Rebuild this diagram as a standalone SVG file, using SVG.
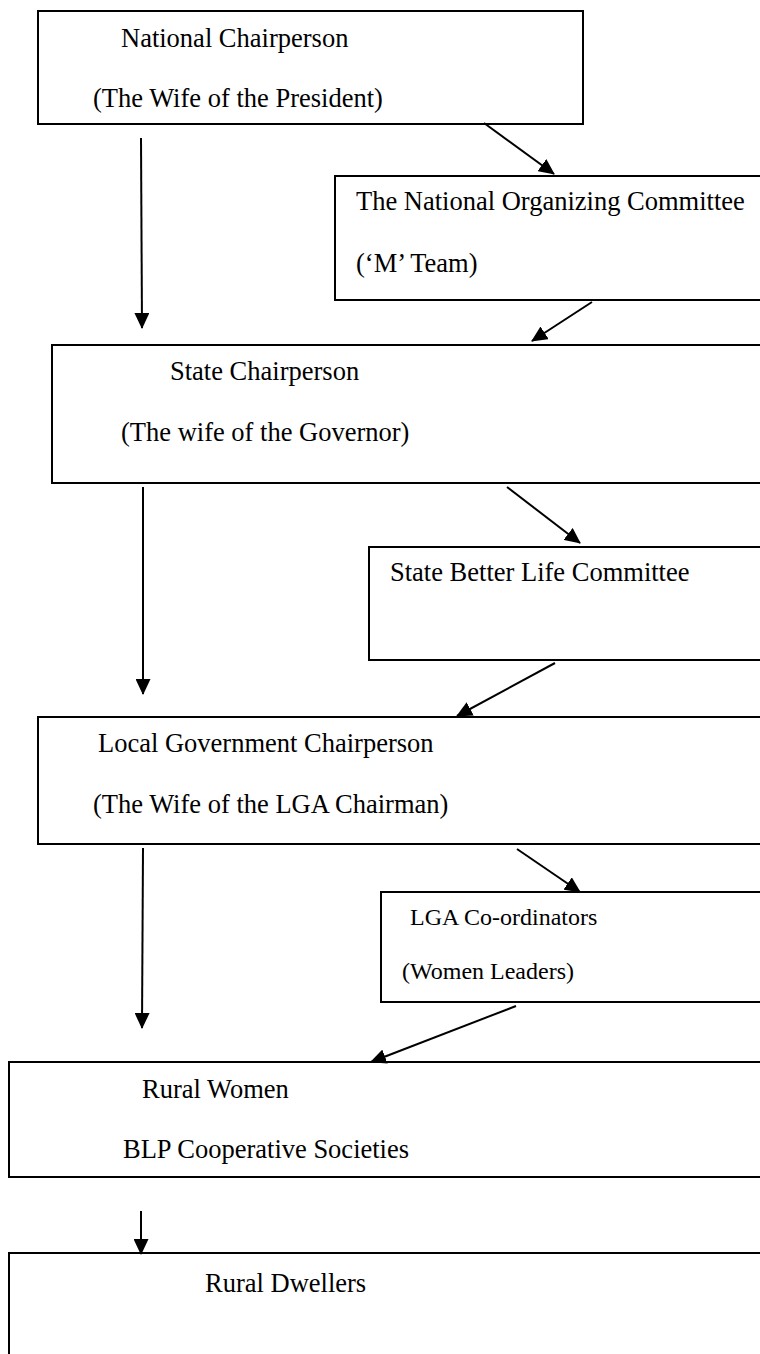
<svg xmlns="http://www.w3.org/2000/svg" width="760" height="1354" viewBox="0 0 760 1354">
<style>
  .box { fill: #ffffff; stroke: #000000; stroke-width: 2; }
  .t { font-family: "Liberation Serif", "Times New Roman", serif; font-size: 26.5px; fill: #000000; }
  .ts { font-family: "Liberation Serif", "Times New Roman", serif; font-size: 24px; fill: #000000; }
  .c { stroke: #000000; stroke-width: 2; fill: none; marker-end: url(#ah); }
</style>
<defs>
  <marker id="ah" markerUnits="userSpaceOnUse" viewBox="0 0 16 15" markerWidth="16" markerHeight="15" refX="15" refY="7.5" orient="auto">
    <path d="M0,0 L16,7.5 L0,15 z" fill="#000000"/>
  </marker>
</defs>
<rect width="760" height="1354" fill="#ffffff"/>

<g id="national-chairperson">
  <rect class="box" x="38" y="11" width="545" height="113"/>
  <text class="t" x="121" y="47">National Chairperson</text>
  <text class="t" x="93" y="107">(The Wife of the President)</text>
</g>
<g id="national-organizing-committee">
  <rect class="box" x="335" y="176" width="460" height="124"/>
  <text class="t" x="356" y="210">The National Organizing Committee</text>
  <text class="t" x="356" y="272">(‘M’ Team)</text>
</g>
<g id="state-chairperson">
  <rect class="box" x="52" y="345" width="743" height="138"/>
  <text class="t" x="170" y="380">State Chairperson</text>
  <text class="t" x="121" y="441">(The wife of the Governor)</text>
</g>
<g id="state-better-life-committee">
  <rect class="box" x="369" y="547" width="426" height="113"/>
  <text class="t" x="390" y="581">State Better Life Committee</text>
</g>
<g id="local-government-chairperson">
  <rect class="box" x="38" y="717" width="757" height="127"/>
  <text class="t" x="98" y="752">Local Government Chairperson</text>
  <text class="t" x="93" y="813">(The Wife of the LGA Chairman)</text>
</g>
<g id="lga-coordinators">
  <rect class="box" x="381" y="892" width="414" height="110"/>
  <text class="ts" x="410" y="925">LGA Co-ordinators</text>
  <text class="ts" x="402" y="979">(Women Leaders)</text>
</g>
<g id="rural-women">
  <rect class="box" x="9" y="1062" width="786" height="115"/>
  <text class="t" x="142" y="1098">Rural Women</text>
  <text class="t" x="123" y="1158">BLP Cooperative Societies</text>
</g>
<g id="rural-dwellers">
  <rect class="box" x="9" y="1253" width="786" height="140"/>
  <text class="t" x="205" y="1292">Rural Dwellers</text>
</g>

<g id="connectors">
  <line class="c" x1="141" y1="138" x2="142" y2="328"/>
  <line class="c" x1="484" y1="123" x2="554" y2="174"/>
  <line class="c" x1="592" y1="302" x2="532" y2="341"/>
  <line class="c" x1="143" y1="487" x2="143" y2="694"/>
  <line class="c" x1="507" y1="487" x2="580" y2="543"/>
  <line class="c" x1="555" y1="663" x2="457" y2="716"/>
  <line class="c" x1="143" y1="848" x2="142" y2="1028"/>
  <line class="c" x1="517" y1="849" x2="580" y2="892"/>
  <line class="c" x1="516" y1="1006" x2="371" y2="1062"/>
  <line class="c" x1="141" y1="1211" x2="141" y2="1254"/>
</g>
</svg>
